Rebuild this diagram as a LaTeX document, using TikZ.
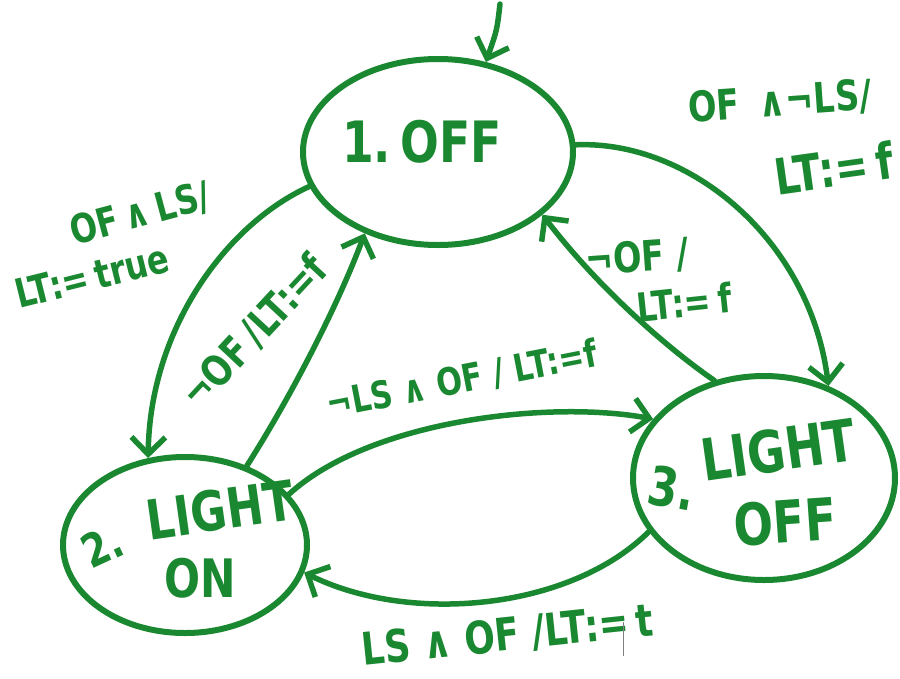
\documentclass[tikz,border=0pt]{standalone}
\usepackage{fontspec}
\newfontfamily\hand{DejaVu Sans}[FakeStretch=0.8]
\usetikzlibrary{shapes.geometric,arrows.meta}
\definecolor{ink}{RGB}{26,136,48}
\begin{document}
\begin{tikzpicture}[x=1pt,y=-1pt,
  stroke/.style={draw=ink,line width=5.5pt,line cap=round,line join=round},
  state/.style={stroke,line width=6pt,ellipse,inner sep=0pt},
  trans/.style={stroke,-{Straight Barb[length=17pt,width=34pt]}},
  lbl/.style={text=ink,inner sep=0pt,font=\hand\bfseries\fontsize{#1}{#1}\selectfont},
  lbl/.default=42]
\useasboundingbox (0,0) rectangle (900,678);

% states
\node[state,minimum width=270pt,minimum height=186pt] (s1) at (438,152) {};
\node[state,minimum width=244pt,minimum height=176pt] (s2) at (185,545) {};
\node[state,minimum width=262pt,minimum height=204pt] (s3) at (764,478) {};

% state names
\node[lbl=57] (n1) at (422,142) {1.\,OFF};
\node[lbl=46,rotate=25] (n2a) at (102,546) {2.};
\node[lbl=55,rotate=8] (n2b) at (220,510) {LIGHT};
\node[lbl=53] (n2c) at (200,578) {ON};
\node[lbl=54,rotate=-10] (n3a) at (672,488) {3.};
\node[lbl=58,rotate=8] (n3b) at (778,450) {LIGHT};
\node[lbl=58,rotate=4] (n3c) at (785,522) {OFF};

% initial arrow
\coordinate (init) at (500,4);
\draw[trans] (init) .. controls (497,30) .. (s1.62);

% transitions
\draw[trans] (s1.195) .. controls (225,225) and (150,330) .. (s2.113);
\draw[trans] (s2.52) .. controls (295,390) and (340,300) .. (s1.228);
\draw[trans] (s1.3) .. controls (690,140) and (810,240) .. (s3.55);
\draw[trans] (s3.117) .. controls (670,350) and (600,290) .. (s1.329);
\draw[trans] (s2.26) .. controls (370,420) and (550,400) .. (s3.152);
\draw[trans] (s3.205) .. controls (570,610) and (410,625) .. (s2.347);

% transition labels
\node[lbl=40,rotate=15] (l1a) at (140,214) {OF\,∧\,LS/};
\node[lbl=40,rotate=14] (l1b) at (92,276) {LT:=\,true};
\node[lbl=42,rotate=47] (l2) at (255,332) {¬OF\,/LT:=f};
\node[lbl=38,rotate=11] (l3) at (462,380) {¬LS ∧ OF / LT:=f};
\node[lbl=42,rotate=4] (l4a) at (780,102) {OF \,∧¬LS/};
\node[lbl=50,rotate=8] (l4b) at (834,168) {LT:=\,f};
\node[lbl=42,rotate=4] (l5a) at (637,258) {¬OF /};
\node[lbl=40,rotate=6] (l5b) at (684,302) {LT:=\,f};
\node[lbl=45,rotate=6] (l6) at (508,636) {LS ∧ OF /LT:=\,t};

% text cursor mark
\draw[gray,line width=0.8pt] (623,622) -- (623,656);
\end{tikzpicture}
\end{document}
